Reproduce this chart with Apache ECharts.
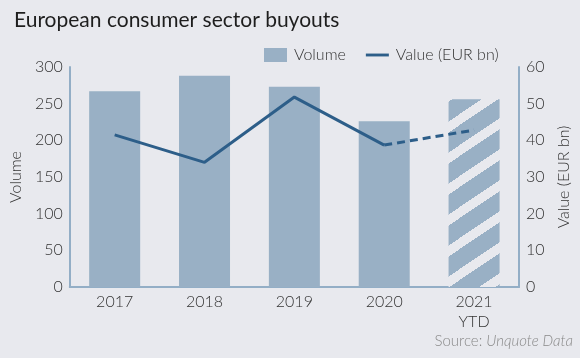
<!DOCTYPE html>
<html><head><meta charset="utf-8">
<script src="https://cdn.jsdelivr.net/npm/echarts@6/dist/echarts.min.js"></script>
<style>html,body{margin:0;padding:0;background:#e8e9ee}#c{width:580px;height:358px}</style>
</head><body><div id="c"></div>
<script>
var categories = ['2017', '2018', '2019', '2020', '2021\nYTD'];
var volume = [267, 288, 273, 226, 256];
var valueActual = [41.5, 34, 51.8, 38.7, null];
var valueYTD = [null, null, null, 38.7, 42.8];
var leftTicks = {min: 0, max: 300, interval: 50};
var rightTicks = {min: 0, max: 60, interval: 10};

var BAR = '#99b0c5', LINE = '#2d5e89', AX = '#93aec6', BG = '#e8e9ee', TXT = '#333333';
var LW = 300;

function hatch() {
  var W = 46, H = 31, c = document.createElement('canvas');
  c.width = W; c.height = H;
  var ctx = c.getContext('2d'), img = ctx.createImageData(W, H);
  var bc = [0x99, 0xb0, 0xc5], bg = [0xe8, 0xe9, 0xee];
  for (var y = 0; y < H; y++) for (var x = 0; x < W; x++) {
    var s = ((y + x * H / W) % H + H) % H;
    var col = s < 20 ? bc : bg;
    var i = (y * W + x) * 4;
    img.data[i] = col[0]; img.data[i+1] = col[1]; img.data[i+2] = col[2]; img.data[i+3] = 255;
  }
  ctx.putImageData(img, 0, 0);
  return c;
}

var barData = volume.map(function (v, i) {
  if (i === volume.length - 1) return {value: v, itemStyle: {color: {image: hatch(), repeat: 'repeat'}}};
  return v;
});

var chart = echarts.init(document.getElementById('c'), null, {renderer: 'canvas'});
chart.setOption({
  backgroundColor: BG,
  textStyle: {fontFamily: 'Lato'},
  animation: false,
  title: {text: 'European consumer sector buyouts', left: 9, top: 5,
    textStyle: {fontFamily: 'Lato', fontSize: 21, fontWeight: 'normal', color: '#1e1e1e'}},
  legend: {left: 264, top: 47, padding: 0, itemWidth: 23, itemHeight: 14, itemGap: 20,
    textStyle: {fontFamily: 'Lato', fontSize: 16, fontWeight: LW, color: TXT, padding: [0, 0, 0, 2]},
    data: [{name: 'Volume', icon: 'rect'},
           {name: 'Value (EUR bn)', icon: 'path://M0,0H24V3H0Z', itemStyle: {color: LINE}}]},
  grid: {left: 69, right: 61, top: 67, bottom: 71},
  xAxis: {type: 'category', data: categories,
    axisLine: {lineStyle: {color: AX, width: 2}}, axisTick: {show: false},
    axisLabel: {color: TXT, fontSize: 16, fontWeight: LW, margin: 5, lineHeight: 20, fontFamily: 'Lato'}},
  yAxis: [
    {type: 'value', min: leftTicks.min, max: leftTicks.max, interval: leftTicks.interval,
      name: 'Volume', nameLocation: 'middle', nameGap: 45,
      nameTextStyle: {color: TXT, fontSize: 16, fontWeight: LW, fontFamily: 'Lato'},
      axisLine: {show: true, lineStyle: {color: AX, width: 2}}, axisTick: {show: false},
      splitLine: {show: false}, axisLabel: {color: TXT, fontSize: 16, fontWeight: LW, margin: 7, fontFamily: 'Lato'}},
    {type: 'value', min: rightTicks.min, max: rightTicks.max, interval: rightTicks.interval,
      name: 'Value (EUR bn)', nameLocation: 'middle', nameGap: 35,
      nameTextStyle: {color: TXT, fontSize: 16, fontWeight: LW, fontFamily: 'Lato'},
      axisLine: {show: true, lineStyle: {color: AX, width: 2}}, axisTick: {show: false},
      splitLine: {show: false}, axisLabel: {color: TXT, fontSize: 16, fontWeight: LW, margin: 7, fontFamily: 'Lato'}}
  ],
  series: [
    {name: 'Volume', type: 'bar', data: barData, barWidth: 51, itemStyle: {color: BAR}, z: 1},
    {name: 'Value (EUR bn)', type: 'line', yAxisIndex: 1, data: valueActual, symbol: 'none',
      lineStyle: {color: LINE, width: 3}, itemStyle: {color: LINE}, z: 3},
    {name: 'Value YTD', type: 'line', yAxisIndex: 1, data: valueYTD, symbol: 'none',
      lineStyle: {color: LINE, width: 3, type: [8, 5]}, itemStyle: {color: LINE}, z: 3}
  ],
  graphic: [{type: 'text', right: 7, top: 334,
    style: {text: '{a|Source: }{b|Unquote Data}', rich: {
      a: {fontFamily: 'Lato', fontSize: 15, fontWeight: LW, fill: '#8a8a8a'},
      b: {fontFamily: 'Lato', fontSize: 15, fontWeight: LW, fontStyle: 'italic', fill: '#8a8a8a'}}}}]
});
</script></body></html>
